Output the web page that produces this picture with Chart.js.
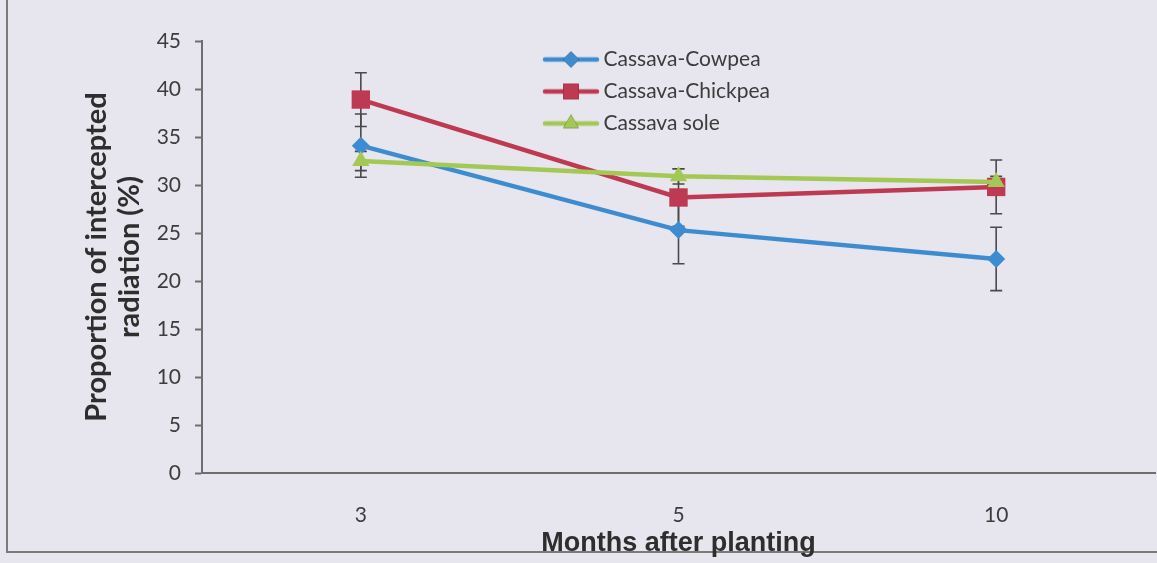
<!DOCTYPE html>
<html>
<head>
<meta charset="utf-8">
<script src="https://cdn.jsdelivr.net/npm/chart.js@4.4.1/dist/chart.umd.min.js"></script>
<style>
  html, body { margin: 0; padding: 0; background: #e7e5ee; overflow: hidden; }
  #wrap { position: relative; width: 1157px; height: 563px; }
  #frame { position: absolute; left: 6px; top: -10px; width: 1200px; height: 561px; border-left: 2px solid #7a7a7a; border-bottom: 2px solid #7a7a7a; }
  canvas { position: absolute; left: 0; top: 0; }
</style>
</head>
<body>
<div id="wrap">
  <div id="frame"></div>
  <canvas id="radChart" width="1157" height="563"></canvas>
</div>
<script>
// months after planting
var months = ["3", "5", "10"];

// proportion of intercepted radiation (%)
var cowpea = [34.1, 25.3, 22.3];
var chickpea = [38.9, 28.7, 29.8];
var sole = [32.5, 30.9, 30.3];

// error bar half-lengths
var cowpeaErr = [3.3, 3.5, 3.3];
var chickpeaErr = [2.8, 3.0, 2.8];
var soleErr = [1.0, 0.8, 0.6];

var yTicks = [0, 5, 10, 15, 20, 25, 30, 35, 40, 45];

var blue = "rgb(62,140,208)";
var red = "rgb(190,58,82)";
var green = "rgb(164,200,84)";

var calibri = "Lato, 'Open Sans', sans-serif";

// little line+marker images for the legend
function legendIcon(color, style, radius) {
    var c = document.createElement('canvas');
    c.width = 58; c.height = 24;
    var g = c.getContext('2d');
    g.strokeStyle = color;
    g.lineWidth = 4.5;
    g.lineCap = 'round';
    g.beginPath(); g.moveTo(3, 12); g.lineTo(55, 12); g.stroke();
    Chart.helpers.drawPoint(g, { pointStyle: style, radius: radius, borderWidth: 0 }, 29, 12);
    g.fillStyle = color;
    g.fill();
    return c;
}

var errorBars = {
    id: 'errorBars',
    beforeDatasetsDraw: function(chart) {
        var ctx = chart.ctx;
        var ys = chart.scales.y;
        ctx.save();
        ctx.strokeStyle = "#4a4a4a";
        ctx.lineWidth = 1.6;
        chart.data.datasets.forEach(function(ds, i) {
            var meta = chart.getDatasetMeta(i);
            meta.data.forEach(function(pt, j) {
                var v = ds.data[j], e = ds.errors[j];
                var top = ys.getPixelForValue(v + e);
                var bot = ys.getPixelForValue(v - e);
                ctx.beginPath();
                ctx.moveTo(pt.x, top); ctx.lineTo(pt.x, bot);
                ctx.moveTo(pt.x - 6, top); ctx.lineTo(pt.x + 6, top);
                ctx.moveTo(pt.x - 6, bot); ctx.lineTo(pt.x + 6, bot);
                ctx.stroke();
            });
        });
        ctx.restore();
    }
};

var moveLegend = {
    id: 'moveLegend',
    afterLayout: function(chart) {
        var lg = chart.legend;
        var w = lg.width, h = lg.height;
        lg.left = 538; lg.right = lg.left + w;
        lg.top = 38; lg.bottom = lg.top + h;
    }
};

var ctx = document.getElementById('radChart').getContext('2d');
var myChart = new Chart(ctx, {
    type: 'line',
    data: {
        labels: months,
        datasets: [{
            label: "Cassava-Cowpea",
            data: cowpea,
            errors: cowpeaErr,
            borderColor: blue,
            backgroundColor: blue,
            pointStyle: 'rectRot',
            pointRadius: 9,
            order: 3
        }, {
            label: "Cassava-Chickpea",
            data: chickpea,
            errors: chickpeaErr,
            borderColor: red,
            backgroundColor: red,
            pointStyle: 'rect',
            pointRadius: 13,
            order: 2
        }, {
            label: "Cassava sole",
            data: sole,
            errors: soleErr,
            borderColor: green,
            backgroundColor: green,
            pointStyle: 'triangle',
            pointRadius: 10,
            order: 1
        }]
    },
    plugins: [errorBars, moveLegend],
    options: {
        responsive: false,
        animation: false,
        devicePixelRatio: 1,
        layout: { autoPadding: false, padding: { top: 41, right: 2, bottom: 3, left: 0 } },
        elements: {
            line: { borderWidth: 4.5, tension: 0, borderCapStyle: 'round' },
            point: { borderWidth: 0, hoverRadius: 9 }
        },
        plugins: {
            tooltip: { enabled: false },
            legend: {
                position: 'chartArea',
                align: 'start',
                labels: {
                    usePointStyle: true,
                    pointStyleWidth: 44,
                    padding: 11,
                    color: "#3c3c3c",
                    font: { family: calibri, size: 21 },
                    generateLabels: function(chart) {
                        var icons = [
                            legendIcon(blue, 'rectRot', 8),
                            legendIcon(red, 'rect', 11),
                            legendIcon(green, 'triangle', 9)
                        ];
                        return chart.data.datasets.map(function(ds, i) {
                            return {
                                text: ds.label,
                                datasetIndex: i,
                                pointStyle: icons[i],
                                fillStyle: ds.backgroundColor,
                                strokeStyle: ds.borderColor,
                                lineWidth: 0,
                                hidden: false,
                                fontColor: "#3c3c3c"
                            };
                        });
                    }
                }
            }
        },
        scales: {
            x: {
                offset: true,
                afterFit: function(scale) {
                    scale.height = 87;
                    scale.paddingLeft = 0;
                    scale.paddingRight = 0;
                },
                grid: { display: false, drawTicks: false },
                border: { display: true, color: "#6e6e6e", width: 2 },
                ticks: { padding: 30, color: "#3c3c3c", font: { family: calibri, size: 21 } },
                title: {
                    display: true,
                    text: "Months after planting",
                    color: "#2e2e2e",
                    padding: { top: 2, bottom: 0 },
                    font: { family: "'Liberation Sans Narrow', 'Arial Narrow', 'Liberation Sans', sans-serif", size: 27, weight: 'bold' }
                }
            },
            y: {
                min: 0,
                max: 45,
                afterBuildTicks: function(scale) {
                    scale.ticks = yTicks.map(function(v) { return { value: v }; });
                },
                afterFit: function(scale) {
                    scale.width = 202;
                    scale.paddingTop = 0;
                    scale.paddingBottom = 0;
                },
                grid: { drawOnChartArea: false, drawTicks: true, tickLength: 7, color: "#6e6e6e", tickWidth: 2 },
                border: { display: true, color: "#6e6e6e", width: 2 },
                ticks: { padding: 14, color: "#3c3c3c", font: { family: calibri, size: 21 } },
                title: {
                    display: true,
                    text: ["Proportion of intercepted", "radiation (%)"],
                    color: "#2e2e2e",
                    padding: { top: 80, bottom: 0 },
                    font: { family: calibri, size: 29, weight: 'bold', lineHeight: 1.14 }
                }
            }
        }
    }
});
</script>
</body>
</html>
